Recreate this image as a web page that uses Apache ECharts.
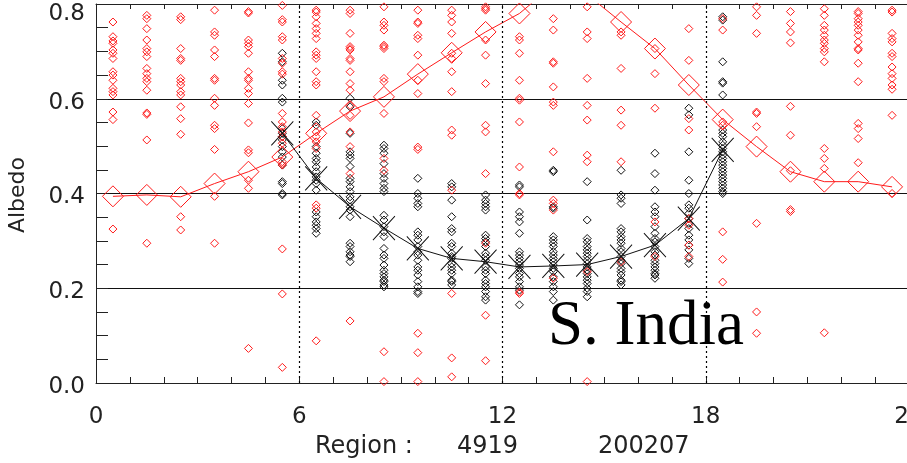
<!DOCTYPE html>
<html>
<head>
<meta charset="utf-8">
<script src="https://cdn.jsdelivr.net/npm/echarts@6/dist/echarts.min.js"></script>
<style>
  html, body { margin: 0; padding: 0; overflow: hidden; background: #fff; }
  #chart { width: 912px; height: 463px; }
</style>
</head>
<body>
<div id="chart"></div>
<script>
// Hour-of-day bins (centre of each hour)
const hours = [0.5, 1.5, 2.5, 3.5, 4.5, 5.5, 6.5, 7.5, 8.5, 9.5, 10.5, 11.5,
               12.5, 13.5, 14.5, 15.5, 16.5, 17.5, 18.5, 19.5, 20.5, 21.5, 22.5, 23.5];
const dayHours = [5.5, 6.5, 7.5, 8.5, 9.5, 10.5, 11.5, 12.5, 13.5, 14.5, 15.5, 16.5, 17.5, 18.5];

// Mean albedo curves
const redMean = [0.394, 0.397, 0.393, 0.421, 0.446, 0.477, 0.527, 0.574, 0.604, 0.652, 0.697, 0.741,
                 0.780, 0.84, 0.82, 0.762, 0.706, 0.629, 0.556, 0.499, 0.446, 0.425, 0.425, 0.414];
const blackMean = [0.527, 0.432, 0.372, 0.327, 0.284, 0.263, 0.256, 0.245, 0.247, 0.250, 0.267, 0.291, 0.347, 0.492];

// Individual red samples per hour
const red00 = [0.762, 0.731, 0.722, 0.717, 0.703, 0.696, 0.685, 0.657, 0.650, 0.639, 0.622, 0.615, 0.608, 0.572, 0.556, 0.325];
const red01 = [0.776, 0.769, 0.748, 0.724, 0.706, 0.699, 0.689, 0.664, 0.653, 0.643, 0.636, 0.618, 0.570, 0.567, 0.513, 0.295];
const red02 = [0.773, 0.767, 0.706, 0.685, 0.681, 0.643, 0.636, 0.629, 0.615, 0.608, 0.583, 0.558, 0.525, 0.351, 0.323];
const red03 = [0.787, 0.741, 0.734, 0.703, 0.689, 0.643, 0.639, 0.601, 0.586, 0.544, 0.537, 0.493, 0.394, 0.295];
const red04 = [0.784, 0.781, 0.724, 0.717, 0.710, 0.696, 0.657, 0.643, 0.639, 0.622, 0.611, 0.590, 0.549, 0.492, 0.486, 0.428, 0.411, 0.073];
const red05 = [0.797, 0.767, 0.762, 0.731, 0.724, 0.685, 0.675, 0.657, 0.652, 0.569, 0.551, 0.541, 0.530, 0.520, 0.506, 0.467, 0.460, 0.283, 0.188, 0.033];
const red06 = [0.787, 0.783, 0.773, 0.759, 0.748, 0.738, 0.727, 0.699, 0.692, 0.685, 0.657, 0.636, 0.629, 0.565, 0.530, 0.520, 0.509, 0.495, 0.376, 0.369, 0.089];
const red07 = [0.787, 0.780, 0.738, 0.710, 0.706, 0.703, 0.685, 0.681, 0.657, 0.632, 0.618, 0.586, 0.565, 0.530, 0.499, 0.442, 0.131];
const red08 = [0.794, 0.762, 0.755, 0.745, 0.713, 0.710, 0.706, 0.643, 0.636, 0.569, 0.474, 0.449, 0.066, 0.003];
const red09 = [0.787, 0.762, 0.759, 0.734, 0.727, 0.692, 0.639, 0.611, 0.498, 0.493, 0.105, 0.064, 0.003];
const red10 = [0.787, 0.776, 0.762, 0.738, 0.696, 0.685, 0.657, 0.615, 0.534, 0.523, 0.407, 0.189, 0.053, 0.013];
const red11 = [0.794, 0.790, 0.787, 0.724, 0.692, 0.632, 0.544, 0.530, 0.442, 0.295, 0.143, 0.047];
const red12 = [0.731, 0.724, 0.696, 0.639, 0.601, 0.597, 0.551, 0.456, 0.400, 0.397, 0.192, 0.189];
const red13 = [0.769, 0.745, 0.678, 0.675, 0.625, 0.593, 0.586, 0.488, 0.386, 0.379, 0.365, 0.221];
const red14 = [0.794, 0.741, 0.727, 0.643, 0.586, 0.555, 0.481, 0.467, 0.235, 0.003];
const red15 = [0.741, 0.734, 0.664, 0.576, 0.544, 0.467, 0.256];
const red16 = [0.706, 0.653, 0.580, 0.340, 0.267];
const red17 = [0.748, 0.681, 0.558, 0.534, 0.347, 0.333, 0.291, 0.267];
const red18 = [0.769, 0.745, 0.551, 0.544, 0.319, 0.261, 0.213];
const red19 = [0.794, 0.776, 0.738, 0.572, 0.569, 0.541, 0.337, 0.150, 0.105];
const red20 = [0.784, 0.759, 0.741, 0.718, 0.584, 0.523, 0.448, 0.366, 0.362];
const red21 = [0.790, 0.776, 0.755, 0.745, 0.734, 0.724, 0.717, 0.706, 0.699, 0.678, 0.495, 0.474, 0.453, 0.106];
const red22 = [0.784, 0.780, 0.769, 0.762, 0.755, 0.745, 0.734, 0.720, 0.706, 0.703, 0.675, 0.636, 0.548, 0.537, 0.516, 0.465];
const red23 = [0.787, 0.783, 0.738, 0.727, 0.720, 0.696, 0.689, 0.667, 0.653, 0.643, 0.629, 0.620, 0.565, 0.400];

// Individual black samples per daytime hour
const black05 = [0.696, 0.678, 0.639, 0.629, 0.601, 0.593, 0.537, 0.527, 0.520, 0.513, 0.499, 0.488, 0.477, 0.460, 0.425, 0.421, 0.400, 0.397];
const black06 = [0.551, 0.544, 0.499, 0.485, 0.474, 0.467, 0.456, 0.446, 0.435, 0.428, 0.421, 0.407, 0.361, 0.351, 0.340, 0.333, 0.326, 0.316];
const black07 = [0.601, 0.583, 0.527, 0.488, 0.481, 0.474, 0.457, 0.432, 0.425, 0.414, 0.404, 0.393, 0.386, 0.372, 0.365, 0.351, 0.295, 0.288, 0.277, 0.270, 0.267, 0.256];
const black08 = [0.502, 0.495, 0.485, 0.463, 0.442, 0.432, 0.421, 0.411, 0.404, 0.354, 0.344, 0.330, 0.319, 0.309, 0.284, 0.270, 0.263, 0.249, 0.238, 0.231, 0.224, 0.217, 0.214, 0.207, 0.203];
const black09 = [0.432, 0.400, 0.390, 0.379, 0.372, 0.319, 0.312, 0.302, 0.288, 0.277, 0.270, 0.259, 0.245, 0.238, 0.228, 0.214, 0.203, 0.193, 0.189];
const black10 = [0.421, 0.414, 0.386, 0.351, 0.326, 0.319, 0.295, 0.288, 0.274, 0.267, 0.263, 0.252, 0.245, 0.238, 0.231, 0.217, 0.214, 0.207];
const black11 = [0.397, 0.386, 0.379, 0.372, 0.365, 0.312, 0.305, 0.298, 0.288, 0.274, 0.267, 0.259, 0.245, 0.238, 0.231, 0.217, 0.210, 0.203, 0.193, 0.182, 0.175];
const black12 = [0.418, 0.414, 0.361, 0.351, 0.340, 0.316, 0.277, 0.270, 0.263, 0.256, 0.249, 0.242, 0.231, 0.224, 0.214, 0.203, 0.196, 0.165];
const black13 = [0.449, 0.446, 0.372, 0.369, 0.309, 0.302, 0.295, 0.288, 0.277, 0.270, 0.263, 0.256, 0.249, 0.242, 0.235, 0.224, 0.214, 0.203, 0.193, 0.175];
const black14 = [0.425, 0.344, 0.305, 0.298, 0.288, 0.281, 0.274, 0.267, 0.259, 0.252, 0.245, 0.238, 0.231, 0.224, 0.217, 0.210, 0.200, 0.193, 0.182];
const black15 = [0.449, 0.397, 0.390, 0.379, 0.326, 0.319, 0.309, 0.302, 0.295, 0.284, 0.277, 0.267, 0.259, 0.252, 0.242, 0.235, 0.228, 0.217, 0.214, 0.207];
const black16 = [0.485, 0.442, 0.407, 0.372, 0.361, 0.351, 0.330, 0.316, 0.305, 0.298, 0.288, 0.277, 0.270, 0.259, 0.252, 0.245, 0.238, 0.231, 0.228, 0.221];
const black17 = [0.580, 0.566, 0.488, 0.428, 0.400, 0.376, 0.369, 0.358, 0.347, 0.337, 0.326, 0.312, 0.302, 0.291, 0.281, 0.263, 0.252];
const black18 = [0.773, 0.766, 0.678, 0.636, 0.633, 0.608, 0.534, 0.527, 0.520, 0.509, 0.502, 0.495, 0.488, 0.481, 0.474, 0.467, 0.460, 0.453, 0.446, 0.439, 0.432, 0.425, 0.418, 0.411, 0.404, 0.400];

// Axis tick values
const xTicks = [0, 6, 12, 18, 24];
const yTicks = [0.0, 0.2, 0.4, 0.6, 0.8];
const dividers = [6, 12, 18];

const redSamples = [red00, red01, red02, red03, red04, red05, red06, red07, red08, red09, red10, red11,
                    red12, red13, red14, red15, red16, red17, red18, red19, red20, red21, red22, red23];
const blackSamples = [black05, black06, black07, black08, black09, black10, black11,
                      black12, black13, black14, black15, black16, black17, black18];

function flatten(xs, cols) {
  const out = [];
  cols.forEach((col, i) => col.forEach(v => out.push([xs[i], v])));
  return out;
}

const AXIS = '#222';
const FONT = 'DejaVu Sans';
const TXT = '#222';
const yMax = yTicks[yTicks.length - 1];

const chart = echarts.init(document.getElementById('chart'), null, { renderer: 'canvas' });
chart.setOption({
  animation: false,
  backgroundColor: '#fff',
  grid: { left: 96, right: 3, top: 4, bottom: 80, containLabel: false, outerBoundsMode: 'none' },
  xAxis: [{
    type: 'value', position: 'bottom',
    min: xTicks[0], max: xTicks[xTicks.length - 1], interval: 6,
    axisLine: { show: true, onZero: false, lineStyle: { color: AXIS, width: 1 } },
    axisTick: { show: true, inside: true, length: 6, lineStyle: { color: AXIS } },
    minorTick: { show: true, splitNumber: 6, length: 6, lineStyle: { color: AXIS } },
    splitLine: { show: false },
    axisLabel: { margin: 23, fontFamily: FONT, fontSize: 23, color: TXT }
  }, {
    type: 'value', position: 'top',
    min: xTicks[0], max: xTicks[xTicks.length - 1], interval: 1,
    axisLine: { show: true, onZero: false, lineStyle: { color: AXIS, width: 1 } },
    axisTick: { show: true, inside: true, length: 5, lineStyle: { color: AXIS } },
    splitLine: { show: false },
    axisLabel: { show: false }
  }],
  yAxis: {
    type: 'value',
    min: yTicks[0], max: yMax, interval: 0.2,
    axisLine: { show: true, onZero: false, lineStyle: { color: AXIS, width: 1 } },
    axisTick: { show: true, inside: true, length: 12, lineStyle: { color: AXIS } },
    minorTick: { show: true, splitNumber: 4, length: 12, lineStyle: { color: AXIS } },
    splitLine: { show: true, lineStyle: { color: '#111', width: 1 } },
    axisLabel: {
      margin: 11,
      formatter: v => (Math.abs(v - yMax) < 1e-9 ? '{t|' : '{n|') + v.toFixed(1) + '}',
      rich: {
        n: { fontFamily: FONT, fontSize: 23, color: TXT, padding: [8, 0, 0, 0] },
        t: { fontFamily: FONT, fontSize: 23, color: TXT, padding: [21, 0, 0, 0] }
      }
    }
  },
  series: [
    {
      name: 'black samples', type: 'scatter', z: 2,
      symbol: 'diamond', symbolSize: 8,
      itemStyle: { color: 'rgba(0,0,0,0)', borderColor: '#111', borderWidth: 1, opacity: 1 },
      data: flatten(dayHours, blackSamples),
      markLine: {
        silent: true, symbol: 'none', label: { show: false },
        lineStyle: { color: '#000', type: [2, 3], width: 1.2 },
        data: dividers.map(d => ({ xAxis: d }))
      }
    },
    {
      name: 'red samples', type: 'scatter', z: 3,
      symbol: 'diamond', symbolSize: 8,
      itemStyle: { color: 'rgba(0,0,0,0)', borderColor: '#ff1a1a', borderWidth: 1, opacity: 1 },
      data: flatten(hours, redSamples)
    },
    {
      name: 'red mean', type: 'line', z: 4, clip: true,
      symbol: 'diamond', symbolSize: 21, showSymbol: true,
      lineStyle: { color: '#ff1a1a', width: 1 },
      itemStyle: { color: 'rgba(0,0,0,0)', borderColor: '#ff1a1a', borderWidth: 1 },
      data: hours.map((h, i) => [h, redMean[i]])
    },
    {
      name: 'black mean', type: 'line', z: 5, clip: true,
      symbol: 'path://M0,0L20,22M20,0L0,22', symbolSize: [22, 24], showSymbol: true,
      lineStyle: { color: '#111', width: 1 },
      itemStyle: { color: 'rgba(0,0,0,0)', borderColor: '#111', borderWidth: 1 },
      data: dayHours.map((h, i) => [h, blackMean[i]])
    }
  ],
  graphic: [
    {
      type: 'text', x: 18, y: 195, rotation: Math.PI / 2,
      style: { text: 'Albedo', fontFamily: FONT, fontSize: 22, fill: TXT, letterSpacing: 1.5,
               align: 'center', verticalAlign: 'middle' }
    },
    {
      type: 'text', x: 315, y: 447,
      style: { text: 'Region :', fontFamily: FONT, fontSize: 24, fill: TXT, letterSpacing: 1.5,
               align: 'left', verticalAlign: 'middle' }
    },
    {
      type: 'text', x: 457, y: 447,
      style: { text: '4919', fontFamily: FONT, fontSize: 24, fill: TXT, letterSpacing: 1.5,
               align: 'left', verticalAlign: 'middle' }
    },
    {
      type: 'text', x: 598, y: 447,
      style: { text: '200207', fontFamily: FONT, fontSize: 24, fill: TXT, letterSpacing: 1.5,
               align: 'left', verticalAlign: 'middle' }
    },
    {
      type: 'text', x: 548, y: 327, z: 10,
      style: { text: 'S. India', fontFamily: 'Liberation Serif', fontSize: 63, fill: '#000',
               align: 'left', verticalAlign: 'middle' }
    }
  ]
});
</script>
</body>
</html>
